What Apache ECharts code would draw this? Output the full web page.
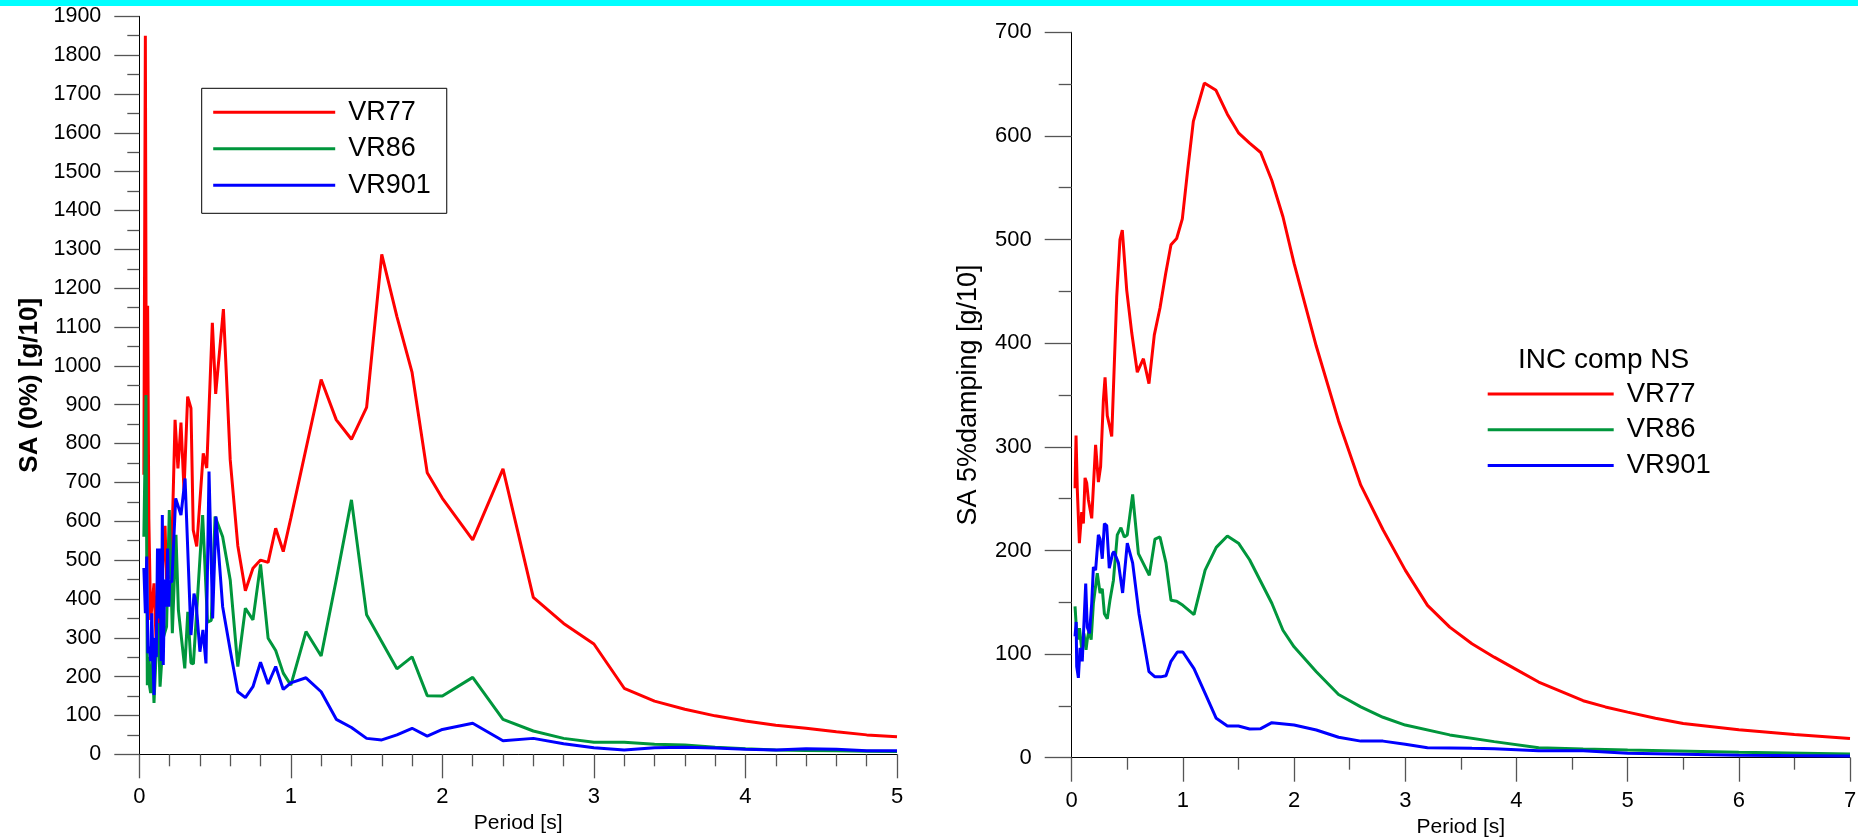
<!DOCTYPE html>
<html>
<head>
<meta charset="utf-8">
<script src="https://cdn.jsdelivr.net/npm/echarts@6/dist/echarts.min.js"></script>
<style>
html,body{margin:0;padding:0;background:#fff;}
#chart{width:1858px;height:837px;}
</style>
</head>
<body>
<div id="chart"></div>
<script>
// ---------- DATA ----------
const seriesNames = ['VR77', 'VR86', 'VR901'];
const leftTickLabelsX = [0, 1, 2, 3, 4, 5];
const rightTickLabelsX = [0, 1, 2, 3, 4, 5, 6, 7];

// Left chart: SA (0%) [g/10] vs Period [s]
const vr77L_T  = [0.03,0.04,0.047,0.055,0.063,0.075,0.097,0.11,0.132,0.17,0.18,0.21,0.236,0.255,0.275,0.295,0.319,0.341,0.356,0.379,0.422,0.445,0.482,0.504,0.555,0.6,0.65,0.7,0.75,0.8,0.85,0.9,0.95,1.0,1.2,1.3,1.4,1.5,1.6,1.7,1.8,1.9,2.0,2.2,2.4,2.6,2.8,3.0,3.2,3.4,3.6,3.8,4.0,4.2,4.4,4.6,4.8,5.0];
const vr77L_SA = [720,1850,730,1155,606,346,440,300,338,588,450,460,861,736,854,680,921,891,577,535,775,737,1111,928,1146,758,537,421,479,500,494,582,522,608,965,861,811,893,1287,1127,983,725,659,552,735,404,337,284,170,137,116,99,86,75,67,58,50,45];

const vr86L_T  = [0.03,0.044,0.053,0.06,0.068,0.075,0.085,0.097,0.11,0.126,0.137,0.148,0.158,0.18,0.198,0.218,0.242,0.258,0.3,0.32,0.341,0.357,0.418,0.45,0.475,0.5,0.55,0.6,0.65,0.7,0.75,0.8,0.85,0.9,0.95,1.0,1.1,1.2,1.3,1.4,1.5,1.6,1.7,1.8,1.9,2.0,2.2,2.4,2.6,2.8,3.0,3.2,3.4,3.6,3.8,4.0,4.2,4.4,4.6,4.8,5.0];
const vr86L_SA = [560,925,178,251,175,158,260,132,250,338,174,174,300,329,629,312,565,371,221,367,235,233,616,340,345,612,560,449,226,376,346,489,299,267,209,178,316,253,450,655,359,290,220,251,151,150,198,90,60,41,31,31,26,24,18,14,11,10,9,8,7];

const vr901L_T  = [0.03,0.04,0.049,0.057,0.066,0.075,0.082,0.09,0.097,0.105,0.112,0.12,0.126,0.135,0.145,0.152,0.158,0.168,0.178,0.187,0.195,0.2,0.215,0.24,0.275,0.302,0.341,0.361,0.375,0.4,0.42,0.44,0.46,0.484,0.506,0.55,0.6,0.65,0.7,0.75,0.8,0.85,0.9,0.95,1.0,1.1,1.2,1.3,1.4,1.5,1.6,1.7,1.8,1.9,2.0,2.2,2.4,2.6,2.8,3.0,3.2,3.4,3.6,3.8,4.0,4.2,4.4,4.6,4.8,5.0];
const vr901L_SA = [480,363,509,260,277,240,363,250,153,300,250,530,350,530,240,616,230,450,380,530,380,444,444,659,616,710,307,414,389,264,320,234,728,350,612,380,268,161,146,174,237,181,226,167,184,197,161,90,69,41,37,50,67,47,64,80,35,41,27,17,11,17,18,16,13,11,14,13,9,9];

// Right chart: SA 5% damping [g/10] vs Period [s]
const vr77R_T  = [0.03,0.039,0.05,0.069,0.09,0.105,0.12,0.135,0.15,0.18,0.215,0.24,0.26,0.285,0.3,0.32,0.345,0.36,0.405,0.434,0.455,0.495,0.54,0.59,0.645,0.695,0.743,0.794,0.845,0.893,0.944,0.995,1.043,1.094,1.193,1.298,1.4,1.5,1.6,1.7,1.8,1.9,2.0,2.2,2.4,2.6,2.8,3.0,3.2,3.4,3.6,3.8,4.0,4.2,4.4,4.6,4.8,5.0,5.25,5.5,6.0,6.5,7.0];
const vr77R_SA = [260,311,260,207,237,226,270,265,249,231,302,266,281,345,367,330,318,310,445,500,509,451,410,372,385,361,408,434,467,495,501,520,567,614,651,644,621,603,593,584,557,522,477,397,325,263,220,181,147,126,110,97,85,73,64,55,49,44,38,33,27,22.5,18.5];

const vr86R_T  = [0.03,0.045,0.054,0.07,0.09,0.11,0.129,0.14,0.156,0.175,0.195,0.23,0.255,0.275,0.294,0.32,0.344,0.375,0.41,0.443,0.473,0.5,0.548,0.6,0.698,0.749,0.794,0.848,0.893,0.944,1.0,1.1,1.2,1.3,1.4,1.5,1.6,1.7,1.8,1.9,2.0,2.2,2.4,2.6,2.8,3.0,3.4,3.8,4.2,4.6,5.0,6.0,7.0];
const vr86R_SA = [146,120,114,125,105,120,104,114,123,114,149,178,159,163,139,134,152,171,215,222,213,215,254,197,176,211,213,188,152,151,147,138,181,203,214,207,191,170,149,123,107,83,61,49,39,31.5,22,15.5,9.7,8.5,7.4,5.2,3.6];

const vr901R_T  = [0.03,0.04,0.045,0.06,0.075,0.095,0.126,0.14,0.16,0.18,0.195,0.215,0.24,0.255,0.275,0.294,0.315,0.338,0.368,0.38,0.42,0.458,0.5,0.548,0.605,0.695,0.749,0.8,0.848,0.893,0.95,1.0,1.1,1.2,1.3,1.4,1.5,1.6,1.7,1.8,2.0,2.2,2.4,2.6,2.8,3.0,3.2,3.6,3.8,4.2,4.6,5.0,6.0,7.0];
const vr901R_SA = [117,131,88,77,106,93,168,126,120,149,184,181,215,211,192,226,224,183,197,199,188,159,207,188,139,83,78,78,79,93,102,102,86,62,38,30.6,30.6,27.7,28,33.8,31.5,26.7,19.7,16,16,13,9.7,9,8.7,6.8,6.8,4.2,2.3,1.6];

// ---------- CHART ----------
const FONT = '"Liberation Sans", Arial, sans-serif';
const colors = {VR77: '#ff0000', VR86: '#00963c', VR901: '#0000ff'};
const zip = (t, v) => t.map((x, i) => [x, v[i]]);

function line(name, t, v, idx) {
  return {
    name: name, type: 'line', xAxisIndex: idx, yAxisIndex: idx,
    data: zip(t, v), color: colors[name],
    showSymbol: false, symbol: 'none',
    lineStyle: {width: 3, color: colors[name]},
    animation: false, silent: true
  };
}

function xAx(idx, max, minorSplit, tickLabels) {
  return {
    type: 'value', gridIndex: idx, min: 0, max: max, interval: 1,
    axisLine: {show: true, lineStyle: {color: '#000', width: 1}},
    axisTick: {show: true, length: 24, lineStyle: {color: '#555', width: 1.3}},
    minorTick: {show: true, splitNumber: minorSplit, length: 12, lineStyle: {color: '#555', width: 1.3}},
    splitLine: {show: false},
    axisLabel: {fontSize: 22, fontFamily: FONT, color: '#000', margin: 32,
      formatter: v => tickLabels.includes(v) ? String(v) : ''},
    name: 'Period [s]', nameLocation: 'middle', nameGap: 53,
    nameTextStyle: {fontSize: 21, fontFamily: FONT, color: '#000'}
  };
}

function yAx(idx, max, name, nameSize, bold, nameGap, labelSize, tickLen, minorLen, margin) {
  return {
    type: 'value', gridIndex: idx, min: 0, max: max, interval: 100,
    axisLine: {show: true, onZero: false, lineStyle: {color: '#000', width: 1}},
    axisTick: {show: true, length: tickLen, lineStyle: {color: '#555', width: 1.3}},
    minorTick: {show: true, splitNumber: 2, length: minorLen, lineStyle: {color: '#555', width: 1.3}},
    splitLine: {show: false},
    axisLabel: {fontSize: labelSize, fontFamily: FONT, color: '#000', margin: margin,
      formatter: v => String(v)},
    name: name, nameLocation: 'middle', nameRotate: 90, nameGap: nameGap,
    nameTextStyle: {fontSize: nameSize, fontFamily: FONT, color: '#000', fontWeight: bold ? 'bold' : 'normal'}
  };
}

const chart = echarts.init(document.getElementById('chart'), null, {renderer: 'canvas'});
chart.setOption({
  animation: false,
  backgroundColor: '#ffffff',
  grid: [
    {left: 139.3, top: 16.3, width: 757.7, height: 738, containLabel: false, outerBoundsMode: 'none'},
    {left: 1071.7, top: 32.3, width: 778.3, height: 725.4, containLabel: false, outerBoundsMode: 'none'}
  ],
  xAxis: [xAx(0, 5, 5, leftTickLabelsX), xAx(1, 7, 2, rightTickLabelsX)],
  yAxis: [
    yAx(0, 1900, 'SA (0%) [g/10]', 26, true, 96, 21.5, 25, 12, 38),
    yAx(1, 700, 'SA 5%damping [g/10]', 27, false, 90, 22, 27, 13, 40)
  ],
  legend: [
    {
      orient: 'vertical', left: 201.7, top: 88.3, data: seriesNames,
      icon: 'rect', itemWidth: 122, itemHeight: 3, itemGap: 6.5,
      padding: [9, 16, 13, 11.5], borderColor: '#000', borderWidth: 1,
      selectedMode: false,
      textStyle: {fontSize: 27, lineHeight: 30, fontFamily: FONT, color: '#000', padding: [0, 0, 0, 8]}
    },
    {
      orient: 'vertical', left: 1487.7, top: 379, data: seriesNames,
      icon: 'rect', itemWidth: 126, itemHeight: 3, itemGap: 5.8,
      padding: 0, selectedMode: false,
      textStyle: {fontSize: 27.5, lineHeight: 30, fontFamily: FONT, color: '#000', padding: [0, 0, 0, 8]}
    }
  ],
  graphic: [
    {type: 'rect', left: 0, top: 0, shape: {x: 0, y: 0, width: 1858, height: 6}, style: {fill: '#00ffff'}, silent: true},
    {type: 'text', left: 1518, top: 346, style: {text: 'INC comp NS', font: '28px ' + FONT, fill: '#000'}, silent: true}
  ],
  series: [
    line('VR77', vr77L_T, vr77L_SA, 0),
    line('VR86', vr86L_T, vr86L_SA, 0),
    line('VR901', vr901L_T, vr901L_SA, 0),
    line('VR77', vr77R_T, vr77R_SA, 1),
    line('VR86', vr86R_T, vr86R_SA, 1),
    line('VR901', vr901R_T, vr901R_SA, 1)
  ]
});
</script>
</body>
</html>
